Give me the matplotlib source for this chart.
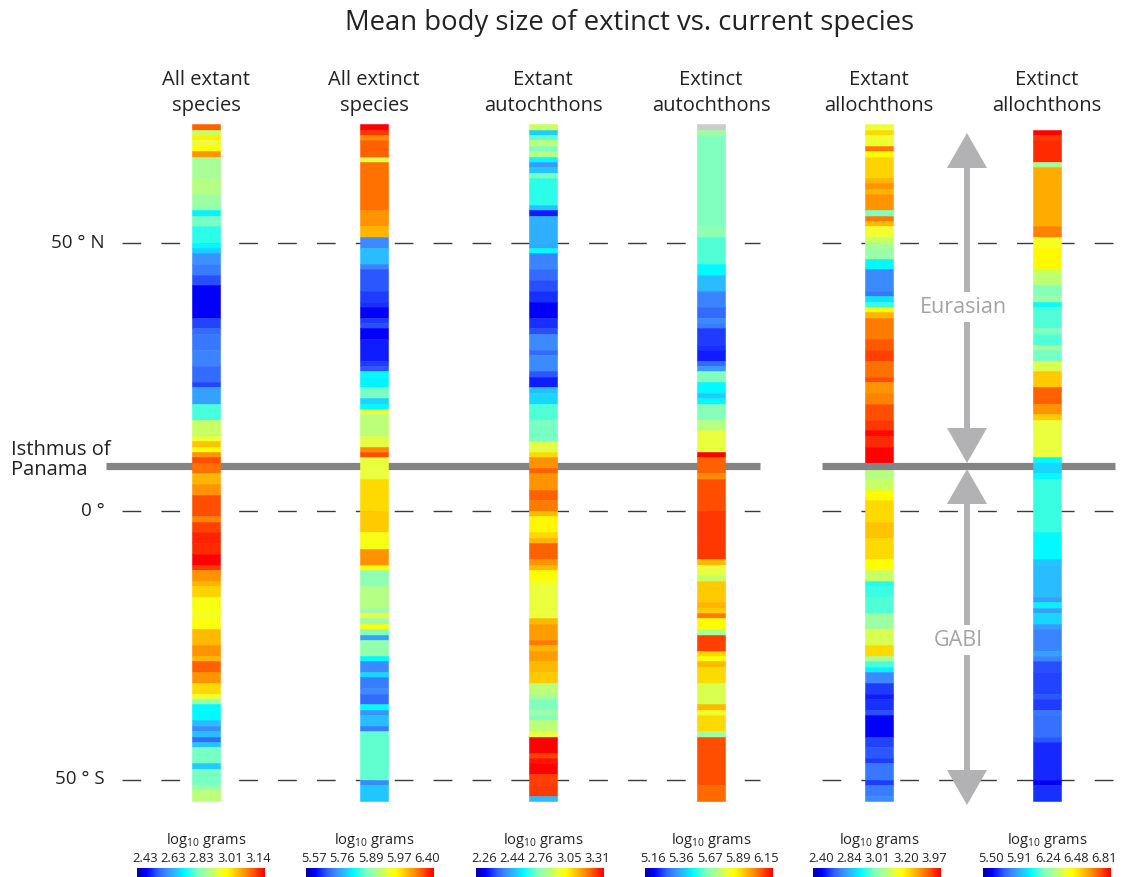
import numpy as np
import matplotlib.pyplot as plt
from matplotlib.colors import LinearSegmentedColormap

plt.rcParams['font.family'] = ['Open Sans', 'DejaVu Sans']
plt.rcParams['mathtext.fontset'] = 'custom'
plt.rcParams['mathtext.rm'] = 'Open Sans'

W, H = 1126, 877
EQ_PX = 511        # pixel row of the equator
PX_PER_DEG = 5.37  # vertical pixels per degree of latitude

titles = ["All extant\nspecies", "All extinct\nspecies", "Extant\nautochthons",
          "Extinct\nautochthons", "Extant\nallochthons", "Extinct\nallochthons"]

# each band runs from its northern edge (deg) down to the next one; the last ends at lat_south
lat_south = -54
isthmus_lat = 8.4

# values are the colour-scale quantile (0 = smallest, 1 = largest mean log10 body mass)
all_extant_lat = [72, 71, 70, 69, 68, 67, 66, 62, 59, 57, 56, 55, 53, 50, 49, 48, 46, 44, 42,
                  36, 34, 33, 30, 27, 24, 23, 20, 17, 14, 13, 12, 11, 10, 9, 7, 5, 3,
                  -1, -2, -4, -6, -8, -10, -11, -13, -14, -16, -19, -20, -22, -25, -27, -28,
                  -30, -32, -34, -35, -36, -39, -40, -41, -42, -43, -44, -47, -48, -51, -52]
all_extant_q = [0.90, 0.60, 0.72, 0.64, 0.70, 0.84, 0.55, 0.57, 0.53, 0.50, 0.36, 0.47, 0.41,
                0.37, 0.32, 0.24, 0.21, 0.15, 0.07, 0.14, 0.18, 0.20, 0.22, 0.18, 0.14, 0.26,
                0.43, 0.60, 0.65, 0.78, 0.70, 0.84, 0.92, 0.88, 0.80, 0.84, 0.92, 0.86, 0.93,
                0.96, 0.95, 1.00, 0.94, 0.84, 0.80, 0.76, 0.68, 0.66, 0.69, 0.79, 0.84, 0.80,
                0.90, 0.84, 0.75, 0.64, 0.52, 0.37, 0.30, 0.23, 0.30, 0.18, 0.31, 0.47, 0.32,
                0.47, 0.52, 0.58]

all_extinct_lat = [72, 71, 70, 69, 66, 65, 56, 53, 51, 49, 46, 45, 41, 39, 38, 36, 35, 34, 32,
                   28, 27, 26, 25, 23, 21, 20, 19, 18, 14, 12, 11, 10, 6, 0, -4, -7, -10, -11,
                   -14, -18, -19, -20, -21, -22, -23, -24, -27, -28, -30, -31, -33, -34, -36,
                   -37, -38, -40, -41, -50, -51]
all_extinct_q = [1.00, 0.94, 0.85, 0.90, 0.63, 0.88, 0.84, 0.80, 0.23, 0.30, 0.22, 0.16, 0.13,
                 0.12, 0.07, 0.13, 0.15, 0.07, 0.10, 0.13, 0.16, 0.37, 0.36, 0.47, 0.33, 0.37,
                 0.64, 0.58, 0.63, 0.85, 0.92, 0.64, 0.75, 0.77, 0.68, 0.84, 0.70, 0.50, 0.57,
                 0.53, 0.63, 0.53, 0.68, 0.48, 0.26, 0.51, 0.37, 0.23, 0.33, 0.21, 0.23, 0.18,
                 0.37, 0.24, 0.30, 0.21, 0.45, 0.23, 0.31]

extant_auto_lat = [72, 71, 70, 69, 68, 67, 66, 65, 64, 63, 62, 57, 56, 55, 50, 49, 48, 45, 43,
                   41, 39, 36, 34, 33, 30, 29, 26, 25, 23, 22, 20, 17, 16, 13, 11, 10, 8, 7, 4,
                   2, 0, -1, -4, -5, -6, -9, -10, -11, -13, -14, -20, -21, -24, -25, -26, -28,
                   -30, -32, -34, -35, -37, -38, -39, -41, -42, -45, -46, -47, -49, -51, -53]
extant_auto_q = [0.60, 0.32, 0.45, 0.58, 0.48, 0.57, 0.37, 0.25, 0.31, 0.47, 0.41, 0.31, 0.10,
                 0.28, 0.27, 0.37, 0.22, 0.18, 0.15, 0.12, 0.07, 0.12, 0.15, 0.23, 0.18, 0.23,
                 0.16, 0.10, 0.30, 0.33, 0.44, 0.48, 0.47, 0.63, 0.75, 0.84, 0.90, 0.84, 0.90,
                 0.87, 0.79, 0.71, 0.75, 0.80, 0.90, 0.84, 0.79, 0.70, 0.65, 0.64, 0.79, 0.83,
                 0.87, 0.80, 0.83, 0.79, 0.77, 0.58, 0.55, 0.48, 0.53, 0.48, 0.58, 0.64, 1.00,
                 0.93, 0.98, 1.00, 0.93, 0.94, 0.30]

extinct_auto_lat = [72, 71, 70, 53, 51, 46, 44, 41, 38, 36, 35, 34, 31, 30, 28, 27, 26, 24, 22,
                    21, 20, 17, 15, 11, 10, 7, 6, 0, -9, -10, -12, -13, -17, -18, -19, -20, -22,
                    -23, -26, -27, -28, -29, -32, -36, -37, -38, -41, -42, -51]
extinct_auto_q = [np.nan, 0.53, 0.48, 0.50, 0.44, 0.37, 0.30, 0.22, 0.18, 0.23, 0.21, 0.13,
                  0.12, 0.10, 0.18, 0.25, 0.48, 0.37, 0.32, 0.37, 0.49, 0.57, 0.64, 1.00, 0.90,
                  0.85, 0.92, 0.94, 0.79, 0.64, 0.60, 0.77, 0.80, 0.77, 0.87, 0.70, 0.55, 0.93,
                  0.76, 0.70, 0.79, 0.75, 0.62, 0.79, 0.66, 0.75, 0.53, 0.92, 0.89]

extant_allo_lat = [72, 71, 70, 68, 67, 66, 62, 61, 60, 59, 56, 55, 54, 53, 51, 50, 49, 47, 45,
                   41, 40, 39, 38, 37, 36, 32, 30, 28, 25, 24, 22, 20, 17, 15, 14, 12, 8, 6, 4,
                   2, -2, -5, -9, -11, -13, -14, -16, -19, -22, -25, -27, -28, -29, -30, -32,
                   -34, -35, -37, -38, -42, -44, -46, -47, -50, -51, -53]
extant_allo_q = [0.64, 0.75, 0.65, 0.87, 0.70, 0.76, 0.80, 0.84, 0.80, 0.84, 0.48, 0.87, 0.79,
                 0.65, 0.60, 0.55, 0.52, 0.37, 0.23, 0.20, 0.34, 0.42, 0.70, 0.80, 0.87, 0.91,
                 0.93, 0.88, 0.92, 0.84, 0.86, 0.92, 0.94, 0.99, 0.95, 1.00, 0.57, 0.60, 0.70,
                 0.75, 0.78, 0.75, 0.70, 0.60, 0.40, 0.42, 0.44, 0.53, 0.62, 0.75, 0.55, 0.43,
                 0.36, 0.23, 0.13, 0.10, 0.12, 0.15, 0.07, 0.14, 0.16, 0.13, 0.20, 0.13, 0.21,
                 0.23]

extinct_allo_lat = [71, 70, 69, 65, 64, 53, 51, 49, 45, 44, 42, 40, 39, 38, 34, 33, 31, 30, 28,
                    26, 23, 20, 18, 17, 10, 9, 7, 6, -4, -9, -10, -16, -17, -18, -19, -21, -22,
                    -26, -27, -28, -30, -34, -35, -37, -38, -42, -43, -50, -51]
extinct_allo_q = [1.00, 0.94, 0.95, 0.55, 0.81, 0.86, 0.67, 0.71, 0.60, 0.58, 0.49, 0.52, 0.38,
                  0.44, 0.48, 0.44, 0.53, 0.47, 0.62, 0.77, 0.90, 0.84, 0.77, 0.64, 0.37, 0.33,
                  0.37, 0.42, 0.37, 0.31, 0.30, 0.26, 0.36, 0.26, 0.33, 0.25, 0.22, 0.26, 0.22,
                  0.15, 0.14, 0.16, 0.13, 0.20, 0.19, 0.16, 0.11, 0.07, 0.12]

# colour bar labels, log10 grams at the quantile breaks
cbar_ticks = [[2.43, 2.63, 2.83, 3.01, 3.14],
              [5.57, 5.76, 5.89, 5.97, 6.40],
              [2.26, 2.44, 2.76, 3.05, 3.31],
              [5.16, 5.36, 5.67, 5.89, 6.15],
              [2.40, 2.84, 3.01, 3.20, 3.97],
              [5.50, 5.91, 6.24, 6.48, 6.81]]

lats = [all_extant_lat, all_extinct_lat, extant_auto_lat,
        extinct_auto_lat, extant_allo_lat, extinct_allo_lat]
quants = [all_extant_q, all_extinct_q, extant_auto_q,
          extinct_auto_q, extant_allo_q, extinct_allo_q]

# layout (pixels)
col_x = [206, 374, 543, 711, 879, 1047]
cbar_x = [201, 370, 540, 709, 877, 1047]
strip_w = 28

# blue-cyan-green-yellow-red scale with pale mid tones
cmap = LinearSegmentedColormap.from_list("bodysize", [
    (0.00, "#0000a0"), (0.07, "#0000ff"), (0.17, "#3264ff"), (0.23, "#3c8cff"),
    (0.30, "#28beff"), (0.37, "#00faff"), (0.43, "#46ffdc"), (0.48, "#82ffbe"),
    (0.55, "#aaff96"), (0.60, "#c8ff64"), (0.64, "#ebff3c"), (0.70, "#ffff00"),
    (0.75, "#ffdc00"), (0.80, "#ffb400"), (0.84, "#ff9600"), (0.88, "#ff7300"),
    (0.92, "#ff5000"), (0.95, "#ff2d00"), (1.00, "#ff0000")])


def lat_of(py):
    return (EQ_PX - py) / PX_PER_DEG


def fy(py):
    return 1 - py / H


fig = plt.figure(figsize=(W / 100, H / 100), dpi=100)
ax = fig.add_axes([0, 0, 1, 1])
ax.set_xlim(0, W)
ax.set_ylim(lat_of(H), lat_of(0))
ax.axis("off")

# latitude guides
for lat in (50, 0, -50):
    for x0, x1 in ((122, 760), (822, 1115)):
        ax.plot([x0, x1], [lat, lat], color="#3a3a3a", lw=1.0,
                ls=(0, (13.5, 14.5)), zorder=1)
for x0, x1 in ((106, 760), (822, 1115)):
    ax.plot([x0, x1], [isthmus_lat, isthmus_lat], color="#848484", lw=5.2,
            solid_capstyle="butt", zorder=2)

# latitude strips
for i, (tops, q) in enumerate(zip(lats, quants)):
    tops = np.array(tops, dtype=float)
    q = np.array(q, dtype=float)
    bottoms = np.append(tops[1:], lat_south)
    colors = [cmap(v) if np.isfinite(v) else (0.8, 0.8, 0.8, 1) for v in q]
    z = 1.5 if i == 4 else 3
    ax.bar(np.full(len(tops), col_x[i]), tops - bottoms, bottom=bottoms, width=strip_w,
           color=colors, edgecolor=colors, linewidth=0.4, zorder=z)

# range arrows
arrow_c = "#b2b2b4"
ax_x = 967
head_len = 35 / PX_PER_DEG
head_w = 40


def double_arrow(top, bot):
    ax.plot([ax_x, ax_x], [top - head_len + 0.5, bot + head_len - 0.5], color=arrow_c,
            lw=4.3, solid_capstyle="butt", zorder=4)
    ax.fill([ax_x - head_w / 2, ax_x + head_w / 2, ax_x],
            [top - head_len, top - head_len, top], color=arrow_c, lw=0, zorder=4)
    ax.fill([ax_x - head_w / 2, ax_x + head_w / 2, ax_x],
            [bot + head_len, bot + head_len, bot], color=arrow_c, lw=0, zorder=4)


double_arrow(lat_of(133), lat_of(463))
double_arrow(lat_of(469), lat_of(805))
ax.text(963, lat_of(307), "Eurasian", ha="center", va="center", fontsize=15.5,
        color="#a4a4a6", zorder=5,
        bbox=dict(facecolor="white", edgecolor="none", pad=3))
ax.text(958, lat_of(640), "GABI", ha="center", va="center", fontsize=15.5,
        color="#a4a4a6", zorder=5,
        bbox=dict(facecolor="white", edgecolor="none", pad=3))

# axis labels
ax.text(105, 50, "50 ° N", ha="right", va="center", fontsize=13.5, color="#222222")
ax.text(105, 0, "0 °", ha="right", va="center", fontsize=13.5, color="#222222")
ax.text(105, -50, "50 ° S", ha="right", va="center", fontsize=13.5, color="#222222")
ax.text(11, lat_of(460), "Isthmus of\nPanama", ha="left", va="center", fontsize=14.5,
        color="#222222", linespacing=1.05)

fig.text(630 / W, fy(23), "Mean body size of extinct vs. current species", ha="center",
         va="center", fontsize=19.8, color="#222222")

for i, t in enumerate(titles):
    fig.text(col_x[i] / W, fy(93), t, ha="center", va="center", fontsize=14.5,
             color="#222222", linespacing=1.38)

# colour bars
grad = np.linspace(0, 1, 256)[None, :]
for i, ticks in enumerate(cbar_ticks):
    left = cbar_x[i] - 64
    cax = fig.add_axes([left / W, 0, 128 / W, 9 / H])
    cax.imshow(grad, cmap=cmap, aspect="auto", extent=(0, 1, 0, 1))
    cax.axis("off")
    fig.text(col_x[i] / W, fy(841), r"log$_{\mathregular{10}}$ grams", ha="center",
             va="center", fontsize=10.5, color="#222222")
    for k, v in enumerate(ticks):
        fig.text((left + 8 + 28.3 * k) / W, fy(858), f"{v:.2f}", ha="center", va="center",
                 fontsize=9.3, color="#222222")

fig.savefig("out.png", dpi=100)
